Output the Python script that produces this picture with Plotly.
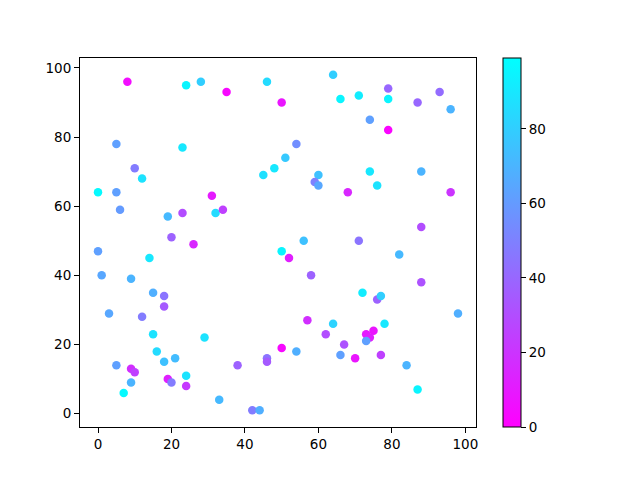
import plotly.graph_objects as go

# scatter points
x_vals = [8, 24, 28, 35, 46, 50, 64, 66, 71, 79, 79, 87, 93, 96, 74, 79, 54, 5, 23, 10,
          12, 48, 51, 45, 60, 59, 60, 68, 74, 76, 88, 96, 0, 5, 6, 19, 23, 31, 32, 34,
          20, 26, 0, 1, 9, 14, 50, 52, 56, 58, 71, 82, 88, 88, 3, 15, 18, 18, 12, 15,
          16, 18, 21, 5, 9, 10, 7, 9, 19, 20, 24, 24, 29, 33, 38, 42, 44, 46, 46, 50,
          54, 57, 62, 64, 66, 67, 70, 72, 73, 74, 73, 75, 76, 77, 77, 78, 84, 87, 98]
y_vals = [96, 95, 96, 93, 96, 90, 98, 91, 92, 94, 91, 90, 93, 88, 85, 82, 78, 78, 77, 71,
          68, 71, 74, 69, 69, 67, 66, 64, 70, 66, 70, 64, 64, 64, 59, 57, 58, 63, 58, 59,
          51, 49, 47, 40, 39, 45, 47, 45, 50, 40, 50, 46, 54, 38, 29, 35, 34, 31, 28, 23,
          18, 15, 16, 14, 13, 12, 6, 9, 10, 9, 11, 8, 22, 4, 14, 1, 1, 16, 15, 19,
          18, 27, 23, 26, 17, 20, 16, 35, 23, 22, 21, 24, 33, 34, 17, 26, 14, 7, 29]
c_vals = [5, 95, 80, 3, 85, 8, 80, 95, 92, 40, 95, 40, 42, 70, 62, 2, 55, 62, 90, 48,
          88, 90, 78, 87, 75, 50, 65, 15, 90, 88, 70, 20, 97, 62, 60, 72, 30, 10, 85, 25,
          38, 15, 62, 65, 70, 90, 95, 12, 75, 38, 45, 72, 30, 32, 65, 68, 45, 35, 48, 88,
          85, 75, 73, 62, 18, 25, 97, 70, 12, 48, 88, 22, 88, 72, 38, 48, 68, 45, 35, 3,
          68, 18, 30, 82, 62, 32, 8, 92, 10, 12, 62, 8, 38, 80, 25, 90, 70, 95, 68]

fig = go.Figure()

fig.add_trace(go.Scatter(
    x=x_vals, y=y_vals,
    mode='markers',
    marker=dict(
        size=8.5,
        color=c_vals,
        cmin=0, cmax=99,
        colorscale=[[0, '#ff00ff'], [1, '#00ffff']],
        showscale=True,
        colorbar=dict(
            thickness=18,
            len=1, lenmode='fraction',
            y=0.5, yanchor='middle',
            x=1.067, xanchor='left', xpad=0, ypad=0,
            outlinecolor='black', outlinewidth=1,
            ticks='outside', ticklen=5, tickcolor='black',
            tickvals=[0, 20, 40, 60, 80],
            tickfont=dict(family='DejaVu Sans', size=13.5, color='black'),
        ),
    ),
    showlegend=False,
))

axis_style = dict(
    showgrid=False, zeroline=False,
    showline=True, linecolor='black', linewidth=1, mirror=True,
    ticks='outside', ticklen=5, tickcolor='black',
    tickfont=dict(family='DejaVu Sans', size=13.5, color='black'),
    tickvals=[0, 20, 40, 60, 80, 100],
)

# page adds an 8px offset, so margins are shifted up/left
fig.update_layout(
    width=640, height=480,
    margin=dict(l=72, r=172, t=50, b=61),
    plot_bgcolor='white', paper_bgcolor='white',
    xaxis=dict(range=[-4.9, 102.9], **axis_style),
    yaxis=dict(range=[-3.85, 102.85], **axis_style),
)

fig.write_html("out.html")
